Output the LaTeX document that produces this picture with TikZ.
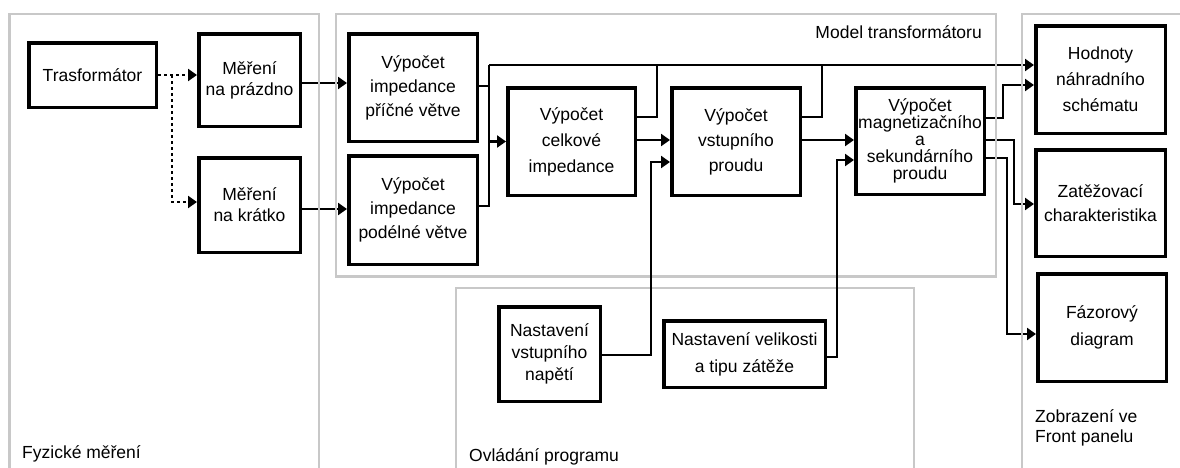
\documentclass[tikz,border=0pt]{standalone}
\usepackage{fontspec}
\setmainfont{Liberation Sans}
\usetikzlibrary{arrows.meta,calc}
\definecolor{frameg}{RGB}{200,200,200}
\tikzset{
  blk/.style={draw, line width=3.5pt, fill=white, inner sep=0pt, align=center,
    font=\fontsize{17.5}{24}\selectfont},
  bs/.style={font=\fontsize{17.5}{#1}\selectfont},
  conn/.style={line width=2.8pt},
  arr/.style={conn, -{Triangle[length=9pt,width=12pt]}},
  dotc/.style={conn, dash pattern=on 3pt off 3pt, -{Triangle[length=9pt,width=12pt]}},
  frame/.style={draw=frameg, line width=2.5pt},
  lbl/.style={inner sep=0pt, font=\fontsize{17.5}{20}\selectfont}
}
\begin{document}
\begin{tikzpicture}[x=1pt,y=-1pt]
\clip (0,0) rectangle (1180,467);
% frames
\draw[frame] (9.5,480) -- (9.5,14) -- (319,14) -- (319,480);
\draw[frame] (336,14) rectangle (996,276.5);
\draw[frame] (456,480) -- (456,288) -- (914,288) -- (914,480);
\draw[frame] (1022,480) -- (1022,14) -- (1190,14);

% blocks
\node[blk, minimum width=127.5, minimum height=64.5] (T) at (92.5,75) {Trasformátor};
\node[blk, bs=21, minimum width=101.5, minimum height=92.5] (MP) at (249.5,80) {Měření\\na prázdno};
\node[blk, bs=21, minimum width=101.5, minimum height=94.5] (MK) at (249.5,205) {Měření\\na krátko};
\node[blk, minimum width=128.5, minimum height=107.5] (VP) at (413,87.5) {Výpočet\\impedance\\příčné větve};
\node[blk, minimum width=128.5, minimum height=108.5] (VD) at (413,210) {Výpočet\\impedance\\podélné větve};
\node[blk, bs=26, minimum width=127.5, minimum height=107.5] (VC) at (571.5,141.5) {Výpočet\\celkové\\impedance};
\node[blk, bs=25, minimum width=128.5, minimum height=107.5] (VV) at (736,141.5) {Výpočet\\vstupního\\proudu};
\node[blk, bs=17, minimum width=128.5, minimum height=106.5] (VM) at (920,141) {Výpočet\\magnetizačního\\a\\sekundárního\\proudu};
\node[blk, bs=26, minimum width=129.5, minimum height=107.5] (H) at (1100.5,79.5) {Hodnoty\\náhradního\\schématu};
\node[blk, bs=24, minimum width=129.5, minimum height=106.5] (Z) at (1100.5,203) {Zatěžovací\\charakteristika};
\node[blk, bs=27, minimum width=128.5, minimum height=107.5] (F) at (1102,327.5) {Fázorový\\diagram};
\node[blk, bs=22, minimum width=101.5, minimum height=94.5] (NV) at (549.5,354) {Nastavení\\vstupního\\napětí};
\node[blk, bs=27, minimum width=161.5, minimum height=66.5] (NZ) at (744.5,354) {Nastavení velikosti\\a tipu zátěže};

% frame labels
\node[lbl, anchor=base east] (lm) at (982,38.5) {Model transformátoru};
\node[lbl, anchor=base west] (lf) at (22,458) {Fyzické měření};
\node[lbl, anchor=base west] (lo) at (469,461) {Ovládání programu};
\node[lbl, anchor=base west, align=left] (lz) at (1035,442) {Zobrazení ve\\Front panelu};

% junction coordinates
\coordinate (d1) at (172,75);
\coordinate (b1) at (489,65);
\coordinate (b3) at (657,65);
\coordinate (b4) at (822,65);
\coordinate (c1) at (651,162);
\coordinate (c2) at (837,160);
\coordinate (e1) at (1003,85);
\coordinate (e2) at (1014,204);
\coordinate (e3) at (1007,334);

% dotted measurement links
\draw[dotc] (T.east) -- (T.east -| MP.west);
\draw[dotc] (d1) |- ([yshift=3pt]MK.west);

% measurement to computation
\draw[arr] ([yshift=-3pt]MP.east) -- ([yshift=-3pt]MP.east -| VP.west);
\draw[arr] ([yshift=-4pt]MK.east) -- ([yshift=-4pt]MK.east -| VD.west);

% impedance blocks
\draw[conn] ([yshift=4pt]VD.east) -| (b1);
\draw[conn] ([yshift=1.5pt]VP.east) -- ([yshift=1.5pt]VP.east -| b1);
\draw[arr] (b1) -- (b1 -| H.west);
\draw[arr] (VC.west -| b1) -- (VC.west);

% total impedance
\draw[conn] ([yshift=24.5pt]VC.east) -| (b3);
\draw[arr] ([yshift=1.5pt]VC.east) -- ([yshift=1.5pt]VC.east -| VV.west);
\draw[arr] ([yshift=-1pt]NV.east) -| (c1) -- (c1 -| VV.west);

% input current
\draw[conn] ([yshift=24.5pt]VV.east) -| (b4);
\draw[arr] ([yshift=1.5pt]VV.east) -- ([yshift=1.5pt]VV.east -| VM.west);
\draw[arr] ([yshift=-3pt]NZ.east) -| (c2) -- (c2 -| VM.west);

% outputs
\draw[arr] ([yshift=23pt]VM.east) -| (e1) -- (e1 -| H.west);
\draw[arr] ([yshift=1pt]VM.east) -| (e2) -- (e2 -| Z.west);
\draw[arr] ([yshift=-17pt]VM.east) -| (e3) -- (e3 -| F.west);

% grey vertical frame sides drawn over the connectors
\draw[frame] (319,14) -- (319,480);
\draw[frame] (336,14) -- (336,276.5);
\draw[frame] (996,14) -- (996,276.5);
\draw[frame] (1022,14) -- (1022,480);
\end{tikzpicture}
\end{document}
